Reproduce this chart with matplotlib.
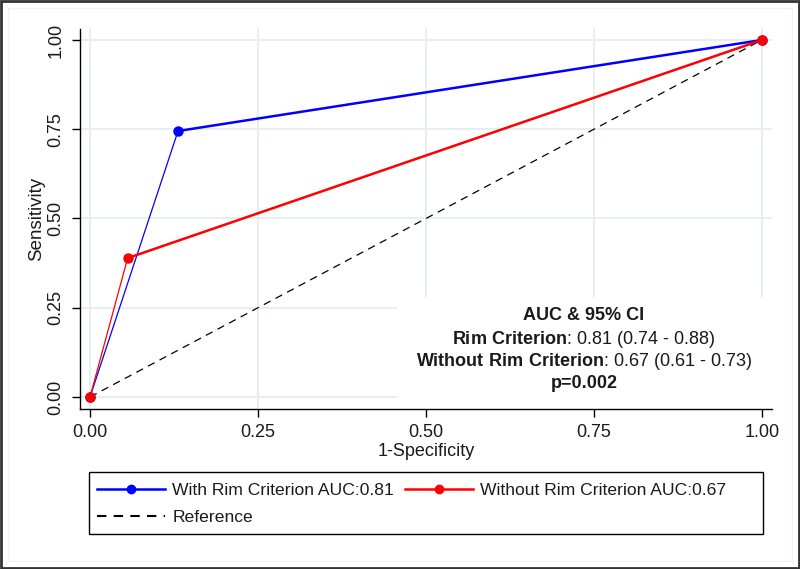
import matplotlib
matplotlib.use('Agg')
import matplotlib.pyplot as plt
from matplotlib.patches import Rectangle
from matplotlib.lines import Line2D

plt.rcParams['font.family'] = ['Liberation Sans', 'DejaVu Sans']
plt.rcParams['mathtext.fontset'] = 'custom'
plt.rcParams['mathtext.rm'] = 'Liberation Sans'
plt.rcParams['mathtext.bf'] = 'Liberation Sans:bold'

# ---- data ---------------------------------------------------------------
rim_fpr = [0.0, 0.131, 1.0]
rim_tpr = [0.0, 0.745, 1.0]
norim_fpr = [0.0, 0.056, 1.0]
norim_tpr = [0.0, 0.389, 1.0]
ref_xy = [0.0, 1.0]
ticks = [0.0, 0.25, 0.5, 0.75, 1.0]
tick_labels = ['0.00', '0.25', '0.50', '0.75', '1.00']

BLUE, RED = '#0000FF', '#FF0000'
GRID = '#E6EEF1'
TXT = '#1a1a1a'

W, H = 800, 569
fig = plt.figure(figsize=(8, 5.69), dpi=100)
ax = fig.add_axes([0.1, 0.2812, 0.865, 0.668])

# white panel behind the AUC text (hides grid there)
ax.add_patch(Rectangle((0.458, 0.0), 0.55, 0.295, transform=ax.transAxes,
                       facecolor='white', edgecolor='none', zorder=1))

ax.plot(ref_xy, ref_xy, color='black', lw=0.9, ls=(0, (6, 4.5)), zorder=2)
# first segment is drawn thin, remaining thick (as in the original)
ax.plot(rim_fpr[:2], rim_tpr[:2], color=BLUE, lw=0.9, zorder=3)
ax.plot(rim_fpr[1:], rim_tpr[1:], color=BLUE, lw=1.8, zorder=3)
ax.plot(rim_fpr, rim_tpr, ls='none', marker='o', ms=6.5, color=BLUE, zorder=4)
ax.plot(norim_fpr[:2], norim_tpr[:2], color=RED, lw=0.9, zorder=3)
ax.plot(norim_fpr[1:], norim_tpr[1:], color=RED, lw=1.8, zorder=3)
ax.plot(norim_fpr, norim_tpr, ls='none', marker='o', ms=6.5, color=RED, zorder=4)

ax.set_xlim(-0.0149, 1.015)
ax.set_ylim(-0.0336, 1.031)
ax.set_xticks(ticks)
ax.set_xticklabels(tick_labels)
ax.set_yticks(ticks)
ax.set_yticklabels(tick_labels, rotation=90, va='center')
ax.tick_params(direction='out', length=6, width=1, labelsize=13, colors='black',
               labelcolor=TXT, pad=5)
ax.grid(True, color=GRID, lw=1.4)
ax.set_axisbelow(True)
for s in ['top', 'right']:
    ax.spines[s].set_visible(False)
for s in ['left', 'bottom']:
    ax.spines[s].set_linewidth(1.0)

ax.set_xlabel('1-Specificity', fontsize=13, labelpad=1.5, color=TXT)
ax.set_ylabel('Sensitivity', fontsize=13.5, labelpad=2, color=TXT)

# AUC annotation
cx = 584 / W
fig.text(cx, 1 - 316 / H, 'AUC & 95% CI', ha='center', va='center',
         fontsize=13, fontweight='bold', color=TXT)
fig.text(cx, 1 - 340 / H, r'$\mathbf{Rim\ Criterion}$: 0.81 (0.74 - 0.88)',
         ha='center', va='center', fontsize=13, color=TXT)
fig.text(cx, 1 - 362 / H, r'$\mathbf{Without\ Rim\ Criterion}$: 0.67 (0.61 - 0.73)',
         ha='center', va='center', fontsize=13, color=TXT)
fig.text(cx, 1 - 384 / H, 'p=0.002', ha='center', va='center',
         fontsize=13, fontweight='bold', color=TXT)

# legend (frame drawn separately so columns keep natural spacing)
handles = [
    Line2D([], [], color=BLUE, lw=1.8, marker='o', ms=6, label='With Rim Criterion AUC:0.81'),
    Line2D([], [], color='black', lw=1.5, ls=(0, (4.5, 3.5)), label='Reference'),
    Line2D([], [], color=RED, lw=1.8, marker='o', ms=6, label='Without Rim Criterion AUC:0.67'),
]
fig.legend(handles=handles, loc='upper left', ncol=2,
           bbox_to_anchor=(97 / W, 1 - 483 / H), bbox_transform=fig.transFigure,
           frameon=False, fontsize=12.6, handlelength=3.9, handletextpad=0.4,
           columnspacing=0.63, numpoints=1, borderaxespad=0, borderpad=0,
           labelspacing=0.68, labelcolor=TXT)
fig.add_artist(Rectangle((89 / W, 1 - 534 / H), 674 / W, 62 / H, transform=fig.transFigure,
                         facecolor='none', edgecolor='black', lw=1.0))

# outer frames
fig.add_artist(Rectangle((8 / W, 8 / H), 784 / W, 553 / H, transform=fig.transFigure,
                         facecolor='none', edgecolor='#EEF3F5', lw=1))
fig.add_artist(Rectangle((0.001, 0.001), 0.998, 0.997, transform=fig.transFigure,
                         facecolor='none', edgecolor='#333333', lw=2))

fig.savefig('out.png', dpi=100)
